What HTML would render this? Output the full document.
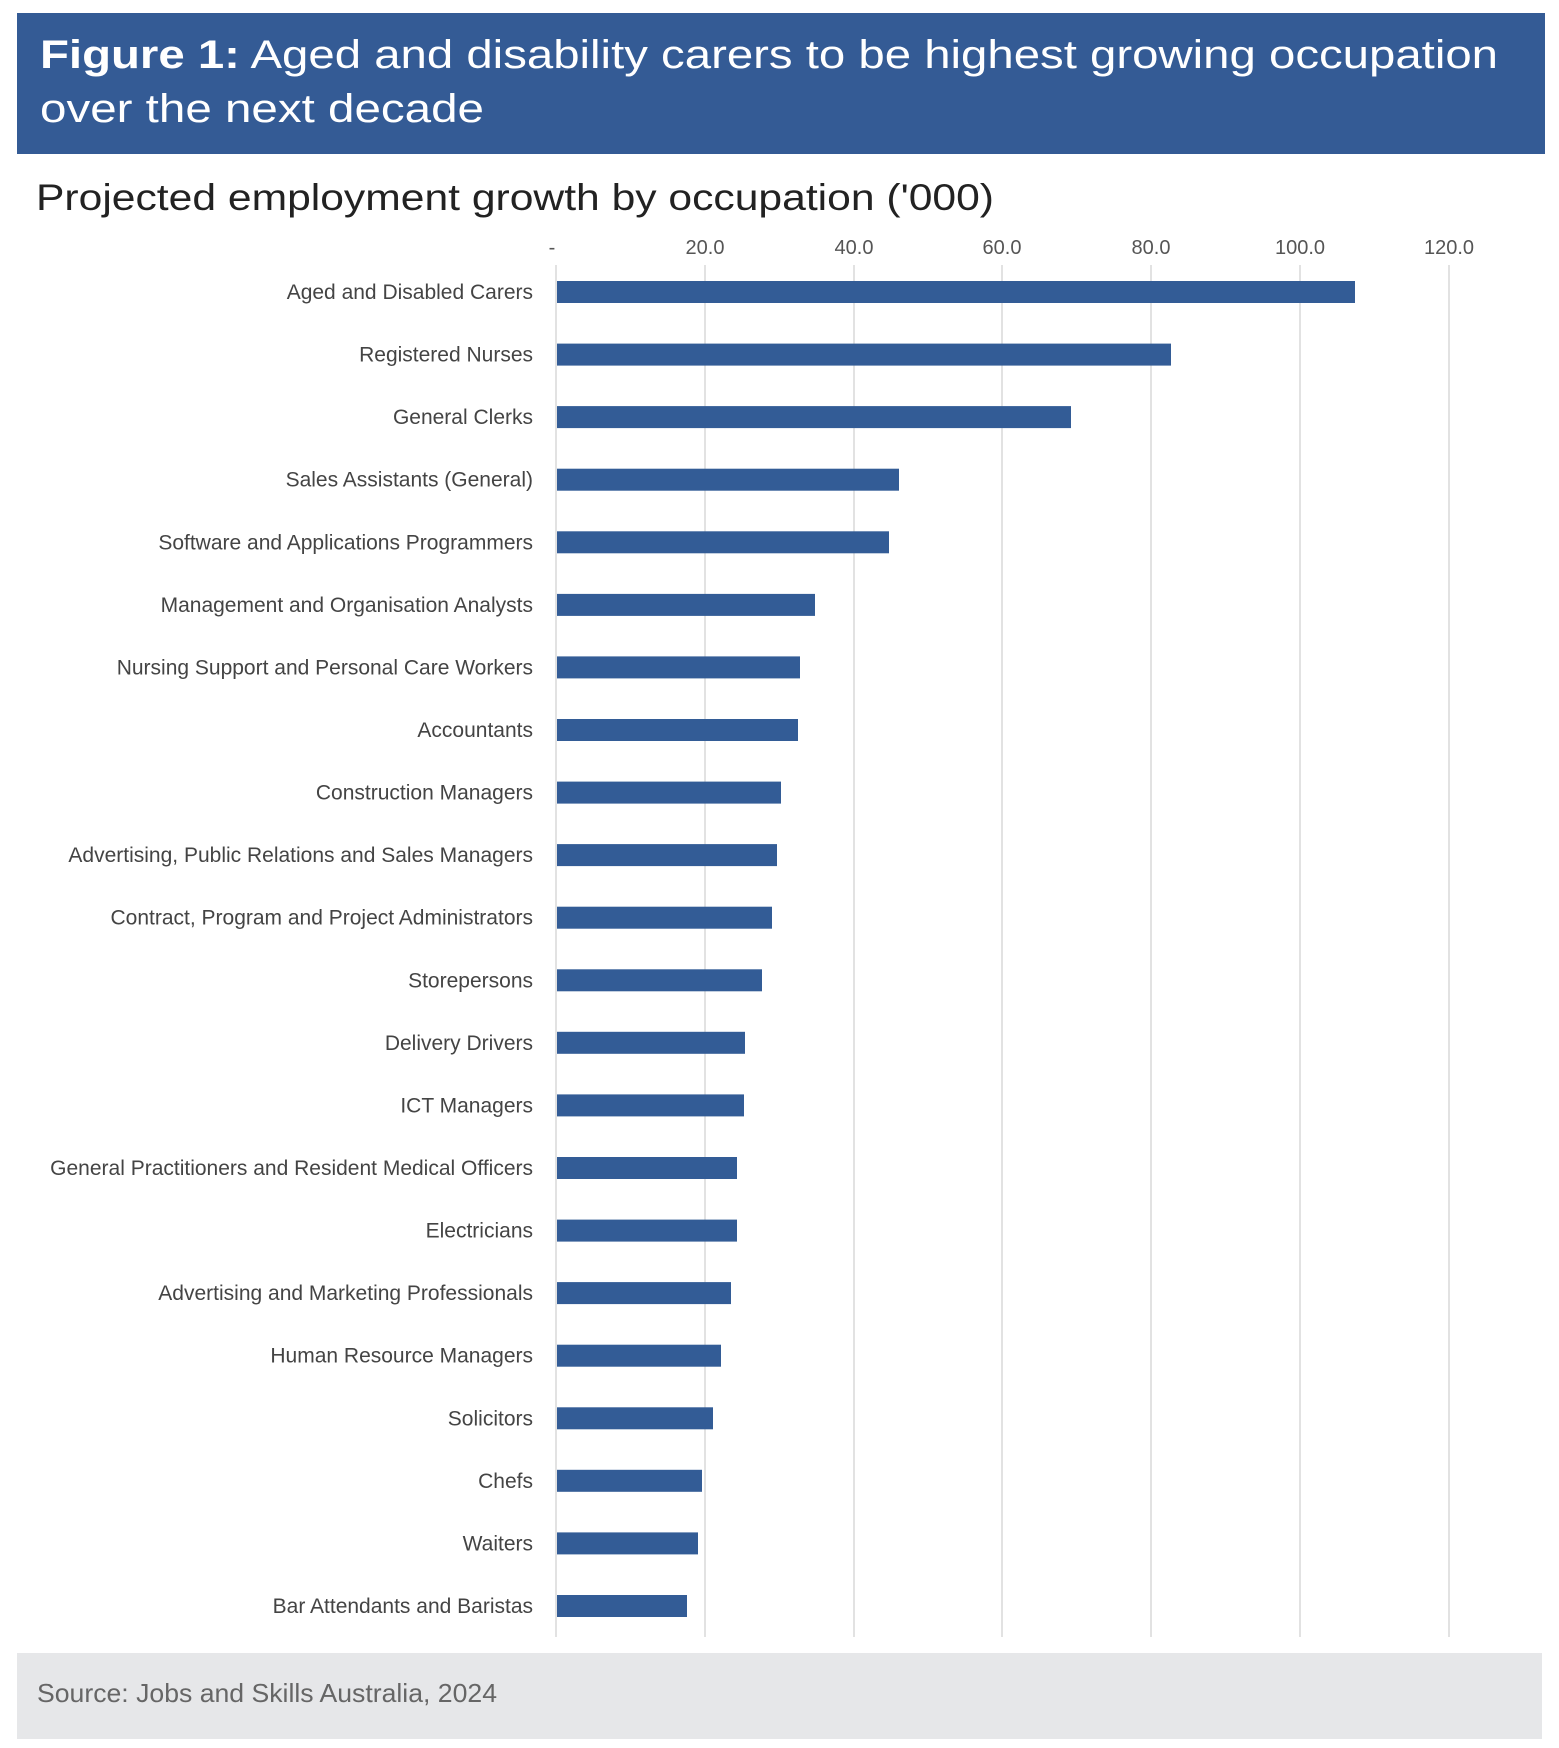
<!DOCTYPE html>
<html><head><meta charset="utf-8"><style>
html,body{margin:0;padding:0;background:#fff;}
svg{display:block;}
</style></head><body>
<svg width="1559" height="1748" viewBox="0 0 1559 1748" xmlns="http://www.w3.org/2000/svg" font-family="'Liberation Sans', sans-serif">
<rect x="17" y="13" width="1528" height="141" fill="#345B95"/>
<text x="40" y="68" font-size="40" fill="#fff" textLength="1458" lengthAdjust="spacingAndGlyphs"><tspan font-weight="bold">Figure 1:</tspan> Aged and disability carers to be highest growing occupation</text>
<text x="40" y="122" font-size="40" fill="#fff" textLength="444" lengthAdjust="spacingAndGlyphs">over the next decade</text>
<text x="36" y="210" font-size="37" fill="#222" textLength="958" lengthAdjust="spacingAndGlyphs">Projected employment growth by occupation ('000)</text>
<g font-size="20" fill="#555" text-anchor="middle">
<text x="552" y="254">-</text>
<text x="705" y="254">20.0</text>
<text x="854" y="254">40.0</text>
<text x="1002" y="254">60.0</text>
<text x="1151" y="254">80.0</text>
<text x="1300" y="254">100.0</text>
<text x="1449" y="254">120.0</text>
</g>
<g stroke="#d9d9d9" stroke-width="1.5">
<line x1="556" y1="265" x2="556" y2="1637"/>
<line x1="705" y1="265" x2="705" y2="1637"/>
<line x1="854" y1="265" x2="854" y2="1637"/>
<line x1="1002" y1="265" x2="1002" y2="1637"/>
<line x1="1151" y1="265" x2="1151" y2="1637"/>
<line x1="1300" y1="265" x2="1300" y2="1637"/>
<line x1="1449" y1="265" x2="1449" y2="1637"/>
</g>
<rect x="17" y="1653" width="1525" height="86" fill="#E6E7E9"/>
<text x="37" y="1702" font-size="26" fill="#666" textLength="460" lengthAdjust="spacingAndGlyphs">Source: Jobs and Skills Australia, 2024</text>
<g fill="#335C96">
<rect x="557" y="281" width="798" height="22"/>
<rect x="557" y="343.6" width="614" height="22"/>
<rect x="557" y="406.1" width="514" height="22"/>
<rect x="557" y="468.7" width="342" height="22"/>
<rect x="557" y="531.3" width="332" height="22"/>
<rect x="557" y="593.9" width="258" height="22"/>
<rect x="557" y="656.4" width="243" height="22"/>
<rect x="557" y="719" width="241" height="22"/>
<rect x="557" y="781.6" width="224" height="22"/>
<rect x="557" y="844.1" width="220" height="22"/>
<rect x="557" y="906.7" width="215" height="22"/>
<rect x="557" y="969.3" width="205" height="22"/>
<rect x="557" y="1031.8" width="188" height="22"/>
<rect x="557" y="1094.4" width="187" height="22"/>
<rect x="557" y="1157" width="180" height="22"/>
<rect x="557" y="1219.6" width="180" height="22"/>
<rect x="557" y="1282.1" width="174" height="22"/>
<rect x="557" y="1344.7" width="164" height="22"/>
<rect x="557" y="1407.3" width="156" height="22"/>
<rect x="557" y="1469.8" width="145" height="22"/>
<rect x="557" y="1532.4" width="141" height="22"/>
<rect x="557" y="1595" width="130" height="22"/>
</g>
<g font-size="21" fill="#444" text-anchor="end">
<text x="533" y="299">Aged and Disabled Carers</text>
<text x="533" y="361.6">Registered Nurses</text>
<text x="533" y="424.1">General Clerks</text>
<text x="533" y="486.7">Sales Assistants (General)</text>
<text x="533" y="549.3">Software and Applications Programmers</text>
<text x="533" y="611.9">Management and Organisation Analysts</text>
<text x="533" y="674.4">Nursing Support and Personal Care Workers</text>
<text x="533" y="737">Accountants</text>
<text x="533" y="799.6">Construction Managers</text>
<text x="533" y="862.1">Advertising, Public Relations and Sales Managers</text>
<text x="533" y="924.7">Contract, Program and Project Administrators</text>
<text x="533" y="987.3">Storepersons</text>
<text x="533" y="1049.8">Delivery Drivers</text>
<text x="533" y="1112.4">ICT Managers</text>
<text x="533" y="1175">General Practitioners and Resident Medical Officers</text>
<text x="533" y="1237.6">Electricians</text>
<text x="533" y="1300.1">Advertising and Marketing Professionals</text>
<text x="533" y="1362.7">Human Resource Managers</text>
<text x="533" y="1425.3">Solicitors</text>
<text x="533" y="1487.8">Chefs</text>
<text x="533" y="1550.4">Waiters</text>
<text x="533" y="1613">Bar Attendants and Baristas</text>
</g>
</svg>
</body></html>
